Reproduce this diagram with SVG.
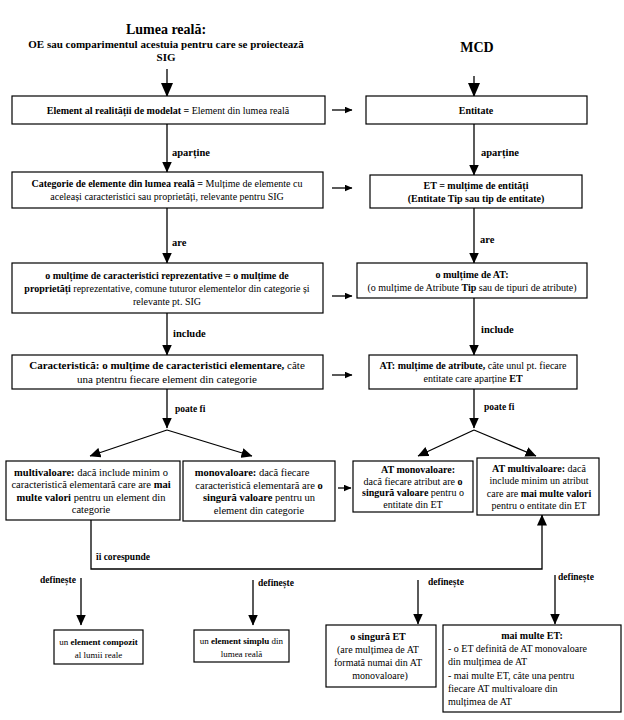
<svg xmlns="http://www.w3.org/2000/svg" width="624" height="720" viewBox="0 0 624 720">
<style>
text{font-family:"Liberation Serif","Times New Roman",serif;fill:#000}
.t{font-size:10px;text-anchor:middle}
.t11{font-size:11px;text-anchor:middle}
.t105{font-size:10.5px;text-anchor:middle}
.t9{font-size:9px;text-anchor:middle}
.tl{font-size:10px}
.b{font-weight:bold}
.lbl{font-size:10.5px;font-weight:bold}
.sl{font-size:9.5px;font-weight:bold}
.ttl{font-weight:bold;text-anchor:middle}
.box{fill:#fff;stroke:#000;stroke-width:1.2}
.ln{fill:none;stroke:#000;stroke-width:1.3}
.big{marker-end:url(#ab)}
.ar{marker-end:url(#ah)}
.sm{marker-end:url(#as)}
</style>
<defs>
<marker id="ab" viewBox="0 0 14 12" refX="13" refY="6" markerWidth="14" markerHeight="12" markerUnits="userSpaceOnUse" orient="auto"><path d="M0,0L14,6L0,12z"/></marker>
<marker id="ah" viewBox="0 0 11 10" refX="10.5" refY="5" markerWidth="11" markerHeight="10" markerUnits="userSpaceOnUse" orient="auto"><path d="M0,0L11,5L0,10z"/></marker>
<marker id="as" viewBox="0 0 8 7" refX="7.5" refY="3.5" markerWidth="8" markerHeight="7" markerUnits="userSpaceOnUse" orient="auto"><path d="M0,0L8,3.5L0,7z"/></marker>
</defs>
<rect width="624" height="720" fill="#fff"/>

<g id="titles">
<text class="ttl" x="166" y="33.5" font-size="14">Lumea reală:</text>
<text class="ttl" x="166" y="48" font-size="11">OE sau comparimentul acestuia pentru care se proiectează</text>
<text class="ttl" x="166" y="61" font-size="11">SIG</text>
<text class="ttl" x="477" y="52" font-size="14">MCD</text>
</g>

<g id="connectors">
<path class="ln big" d="M167,69V96"/>
<path class="ln big" d="M474,76V96"/>
<path class="ln sm" d="M332,110H352"/>
<path class="ln ar" d="M167,124V172"/>
<path class="ln ar" d="M474,124V175"/>
<path class="ln sm" d="M332,188H352"/>
<path class="ln ar" d="M167,208V263"/>
<path class="ln ar" d="M474,208V263"/>
<path class="ln sm" d="M332,296H352"/>
<path class="ln ar" d="M167,313V355"/>
<path class="ln ar" d="M474,298V355"/>
<path class="ln sm" d="M332,375H352"/>
<path class="ln ar" d="M167,389V428"/>
<path class="ln ar" d="M474,389V428"/>
<path class="ln ar" d="M167,430L90,456"/>
<path class="ln ar" d="M167,430L252,456"/>
<path class="ln ar" d="M474,430L418,456"/>
<path class="ln ar" d="M474,430L536,456"/>
<path class="ln sm" d="M338,488H351"/>
<path class="ln ar" d="M91,520V569H542V515"/>
<path class="ln ar" d="M81,578V625"/>
<path class="ln ar" d="M253,580V625"/>
<path class="ln ar" d="M418,580V624"/>
<path class="ln ar" d="M555,575V624"/>
<text class="lbl" x="172" y="156">aparține</text>
<text class="lbl" x="481" y="156">aparține</text>
<text class="lbl" x="172" y="246">are</text>
<text class="lbl" x="480" y="243">are</text>
<text class="lbl" x="173" y="337" font-size="11.5">include</text>
<text class="lbl" x="481" y="333" font-size="11.5">include</text>
<text class="sl" x="175" y="412">poate fi</text>
<text class="sl" x="484" y="410">poate fi</text>
<text class="sl" x="96" y="560">îi corespunde</text>
<text class="sl" x="40" y="583">definește</text>
<text class="sl" x="258" y="586">definește</text>
<text class="sl" x="428" y="585">definește</text>
<text class="sl" x="558" y="580">definește</text>
</g>

<g id="n-element">
<rect class="box" x="12" y="96" width="313" height="28"/>
<text class="t" x="168" y="113.5"><tspan class="b">Element al realității de modelat =</tspan> Element din lumea reală</text>
</g>
<g id="n-entitate">
<rect class="box" x="366" y="96" width="221" height="28"/>
<text class="t b" x="476" y="113.5">Entitate</text>
</g>

<g id="n-categorie">
<rect class="box" x="12" y="172" width="311" height="36"/>
<text class="t" x="167" y="187"><tspan class="b">Categorie de elemente din lumea reală =</tspan> Mulțime de elemente  cu</text>
<text class="t" x="167" y="200">aceleași caracteristici sau proprietăți, relevante pentru SIG</text>
</g>
<g id="n-et">
<rect class="box" x="370" y="175" width="212" height="33"/>
<text class="t b" x="476" y="188.5">ET = mulțime de entități</text>
<text class="t b" x="476" y="201.5">(Entitate Tip sau tip de entitate)</text>
</g>

<g id="n-caract-repr">
<rect class="box" x="12" y="263" width="311" height="50"/>
<text class="t b" x="167" y="278.5">o mulțime de caracteristici reprezentative = o mulțime  de</text>
<text class="t" x="167" y="291.5"><tspan class="b">proprietăți</tspan> reprezentative, comune tuturor elementelor din categorie și</text>
<text class="t" x="167" y="304.5">relevante pt. SIG</text>
</g>
<g id="n-multime-at">
<rect class="box" x="357" y="263" width="230" height="35"/>
<text class="t b" x="472" y="277.5">o mulțime de AT:</text>
<text class="t" x="472" y="290.5">(o mulțime de Atribute <tspan class="b">Tip</tspan> sau  de tipuri de atribute)</text>
</g>

<g id="n-caracteristica">
<rect class="box" x="12" y="355" width="311" height="34"/>
<text class="t11" x="167" y="369"><tspan class="b">Caracteristică: o mulțime de caracteristici elementare,</tspan> câte</text>
<text class="t11" x="167" y="383">una ptentru fiecare element din categorie</text>
</g>
<g id="n-at">
<rect class="box" x="369" y="355" width="208" height="34"/>
<text class="t" x="473" y="369"><tspan class="b">AT: mulțime de atribute,</tspan> câte unul pt. fiecare</text>
<text class="t" x="473" y="382">entitate care aparține <tspan class="b">ET</tspan></text>
</g>

<g id="n-multivaloare">
<rect class="box" x="6" y="461" width="174" height="59"/>
<text class="t105" x="91" y="475.5"><tspan class="b">multivaloare:</tspan> dacă include minim o</text>
<text class="t105" x="91" y="488">caracteristică elementară care are <tspan class="b">mai</tspan></text>
<text class="t105" x="91" y="500.5"><tspan class="b">multe valori</tspan> pentru un element din</text>
<text class="t105" x="91" y="513">categorie</text>
</g>
<g id="n-monovaloare">
<rect class="box" x="183" y="461" width="152" height="60"/>
<text class="t105" x="252" y="476"><tspan class="b">monovaloare:</tspan> dacă fiecare</text>
<text class="t105" x="259" y="488.5">caracteristică elementară are <tspan class="b">o</tspan></text>
<text class="t105" x="259" y="501"><tspan class="b">singură valoare</tspan> pentru un</text>
<text class="t105" x="259" y="513.5">element din categorie</text>
</g>
<g id="n-at-mono">
<rect class="box" x="353" y="461" width="120" height="51"/>
<text class="t b" x="418" y="473">AT monovaloare:</text>
<text class="t" x="413" y="484.5">dacă fiecare atribut are <tspan class="b">o</tspan></text>
<text class="t" x="413" y="496"><tspan class="b">singură valoare</tspan> pentru o</text>
<text class="t" x="413" y="507.5">entitate din ET</text>
</g>
<g id="n-at-multi">
<rect class="box" x="477" y="458" width="122" height="57"/>
<text class="t" x="539" y="471.5"><tspan class="b">AT multivaloare:</tspan> dacă</text>
<text class="t" x="539" y="484">include minim un atribut</text>
<text class="t" x="539" y="496.5">care are <tspan class="b">mai multe valori</tspan></text>
<text class="t" x="539" y="509">pentru o entitate din ET</text>
</g>

<g id="n-compozit">
<rect class="box" x="54" y="630" width="89" height="34"/>
<text class="t9" x="98.5" y="644.5">un <tspan class="b">element  compozit</tspan></text>
<text class="t9" x="98.5" y="657.5">al lumii reale</text>
</g>
<g id="n-simplu">
<rect class="box" x="194" y="630" width="95" height="32"/>
<text class="t9" x="241.5" y="643.5">un <tspan class="b">element simplu</tspan> din</text>
<text class="t9" x="241.5" y="656.5">lumea reală</text>
</g>
<g id="n-o-singura-et">
<rect class="box" x="326" y="625" width="110" height="62"/>
<text class="t b" x="378" y="640">o singură ET</text>
<text class="t" x="378" y="653">(are mulțimea de AT</text>
<text class="t" x="378" y="666">formată numai din AT</text>
<text class="t" x="380" y="679">monovaloare)</text>
</g>
<g id="n-mai-multe-et">
<rect class="box" x="443" y="625" width="178" height="87"/>
<text class="t b" x="532" y="638.8">mai multe ET:</text>
<text class="tl" x="448" y="652">- o ET definită de AT monovaloare</text>
<text class="tl" x="448" y="665.3">din  mulțimea de AT</text>
<text class="tl" x="448" y="678.6">- mai multe ET, câte una pentru</text>
<text class="tl" x="448" y="691.9">fiecare AT multivaloare din</text>
<text class="tl" x="448" y="705.2">mulțimea de AT</text>
</g>
</svg>
